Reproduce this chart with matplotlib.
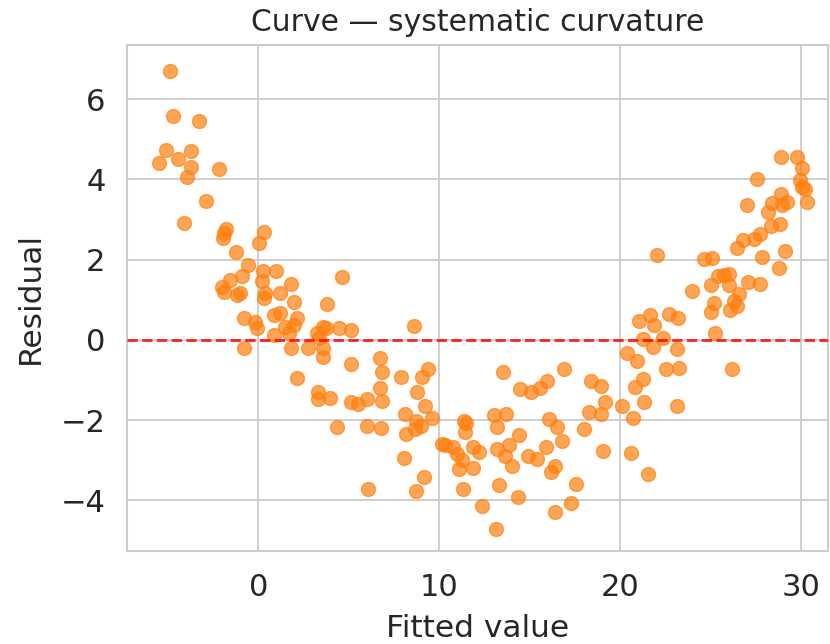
import numpy as np
import matplotlib
matplotlib.use("Agg")
import matplotlib.pyplot as plt
import seaborn as sns

# residuals vs fitted values
fitted = [
    -5.47, -5.08, -4.86, -4.70, -4.42, -4.10, -3.92, -3.70, -3.70, -3.26,
    -2.90, -2.15, -1.77, -1.88, -1.93, -1.20, -0.55, -0.88, -1.55, -2.00,
    -1.90, -1.15, -1.00, -0.77, -0.17, -0.05, -0.77, 0.05, 0.33, 0.28,
    0.20, 0.40, 0.33, 1.00, 1.20, 1.82, 2.00, 0.88, 1.20, 0.88,
    1.50, 1.95, 2.15, 1.70, 1.80, 2.15,
    4.64, 3.80, 3.58, 3.72, 4.48, 5.14, 3.26, 3.37, 2.76, 3.60,
    3.60, 5.14, 6.74, 6.85, 3.31, 3.31, 3.98, 5.14, 5.52, 6.02,
    6.74, 6.85, 4.36, 6.02, 6.80, 6.08, 7.90, 8.62, 9.40, 9.06,
    8.78, 9.23, 9.60, 8.12, 8.73, 9.00, 8.67, 8.18, 8.07, 9.17,
    8.73,
    10.17, 10.30, 10.77, 11.00, 11.27, 11.07, 11.35, 11.50, 11.42, 11.33,
    11.85, 12.20, 11.88, 12.38, 13.04, 13.70, 13.22, 13.54, 14.42, 14.48,
    15.08, 15.58, 15.97, 16.90, 13.17, 13.85, 13.62, 14.03, 13.30, 14.35,
    13.12, 16.08, 16.52, 16.80, 15.90, 14.92, 15.41, 16.40, 16.20, 16.40,
    17.30, 17.57,
    18.40, 18.95, 19.15, 18.29, 18.95, 18.00, 19.06, 20.10, 20.39, 20.94,
    20.70, 20.62, 21.55, 21.27, 20.83, 21.30, 23.15, 21.05, 21.66, 21.88,
    22.70, 23.20, 21.27, 22.35, 21.82, 23.15, 22.54, 23.26, 22.04,
    25.25, 26.19, 23.98, 24.64, 25.08, 25.41, 25.75, 26.02, 25.03, 26.02,
    27.07, 27.73, 26.57, 25.19, 26.30, 26.46, 26.08, 25.03, 26.46, 26.80,
    27.40, 27.70, 27.85, 29.10, 28.80, 27.00, 27.57, 28.34, 28.84, 28.18,
    28.40, 28.95, 29.23, 28.90, 28.90, 29.78, 30.06, 29.94, 30.06, 30.20,
    30.33,
]
residual = [
    4.41, 4.74, 6.70, 5.59, 4.51, 2.92, 4.06, 4.71, 4.31, 5.46,
    3.47, 4.26, 2.77, 2.67, 2.54, 2.19, 1.87, 1.60, 1.50, 1.32,
    1.20, 1.12, 1.17, 0.55, 0.45, 0.30, -0.20, 2.42, 2.69, 1.72,
    1.47, 1.17, 1.05, 1.72, 1.17, 1.40, 0.95, 0.62, 0.67, 0.12,
    0.33, 0.36, 0.55, 0.17, -0.20, -0.95,
    1.57, 0.90, 0.33, 0.30, 0.30, 0.25, 0.17, 0.05, -0.20, -0.20,
    -0.42, -0.60, -0.45, -0.80, -1.30, -1.47, -1.45, -1.55, -1.60, -1.47,
    -1.20, -1.52, -2.17, -2.15, -2.19, -3.72, -0.92, 0.35, -0.72, -0.92,
    -1.30, -1.65, -1.95, -1.85, -2.02, -2.14, -2.22, -2.34, -2.94, -3.42,
    -3.76,
    -2.60, -2.62, -2.68, -2.84, -2.99, -3.21, -2.03, -2.06, -2.30, -3.73,
    -2.68, -2.80, -3.20, -4.14, -1.87, -1.86, -2.17, -0.79, -2.37, -1.23,
    -1.29, -1.20, -1.02, -0.73, -2.72, -2.62, -2.90, -3.14, -3.62, -3.91,
    -4.72, -1.97, -2.17, -2.52, -2.67, -2.89, -2.97, -3.14, -3.29, -4.29,
    -4.07, -3.60,
    -1.03, -1.14, -1.55, -1.79, -1.85, -2.22, -2.76, -1.66, -0.33, -0.52,
    -1.95, -2.83, -3.34, -0.97, -1.17, -1.54, -1.66, 0.47, 0.62, 0.37,
    0.65, 0.55, 0.02, 0.05, -0.17, -0.22, -0.72, -0.70, 2.12,
    0.17, -0.72, 1.22, 2.02, 2.04, 1.60, 1.62, 1.64, 1.37, 1.37,
    1.45, 1.40, 1.15, 0.92, 0.97, 0.85, 0.75, 0.70, 2.29, 2.49,
    2.52, 2.64, 2.07, 2.22, 1.80, 3.37, 4.01, 2.84, 2.89, 3.19,
    3.42, 3.37, 3.44, 3.64, 4.56, 4.56, 4.29, 3.99, 3.82, 3.77,
    3.44,
]

sns.set_style("whitegrid")
plt.rcParams["font.family"] = ["DejaVu Sans"]

fig = plt.figure(figsize=(8.3, 6.44), dpi=100)
ax = fig.add_axes([0.153, 0.144, 0.845, 0.786])

ax.scatter(fitted, residual, s=100, color="#ff7f0e", alpha=0.7,
           edgecolors="#ff7f0e", linewidths=1.0, zorder=3)
ax.axhline(0, color="red", linestyle="--", linewidth=2, alpha=0.85, zorder=4)

ax.set_xlim(-7.25, 31.5)
ax.set_ylim(-5.27, 7.35)
ax.set_xticks([0, 10, 20, 30])
ax.set_yticks([-4, -2, 0, 2, 4, 6])
ax.tick_params(labelsize=22, pad=12)
for s in ax.spines.values():
    s.set_color("#cccccc")
    s.set_linewidth(1.5)
ax.grid(color="#cccccc", linewidth=1.3)

ax.set_xlabel("Fitted value", fontsize=22.5, labelpad=9)
ax.set_ylabel("Residual", fontsize=22.5, labelpad=11)
ax.set_title("Curve \u2014 systematic curvature", fontsize=21.5, pad=10)

fig.savefig("out.png", dpi=100)
